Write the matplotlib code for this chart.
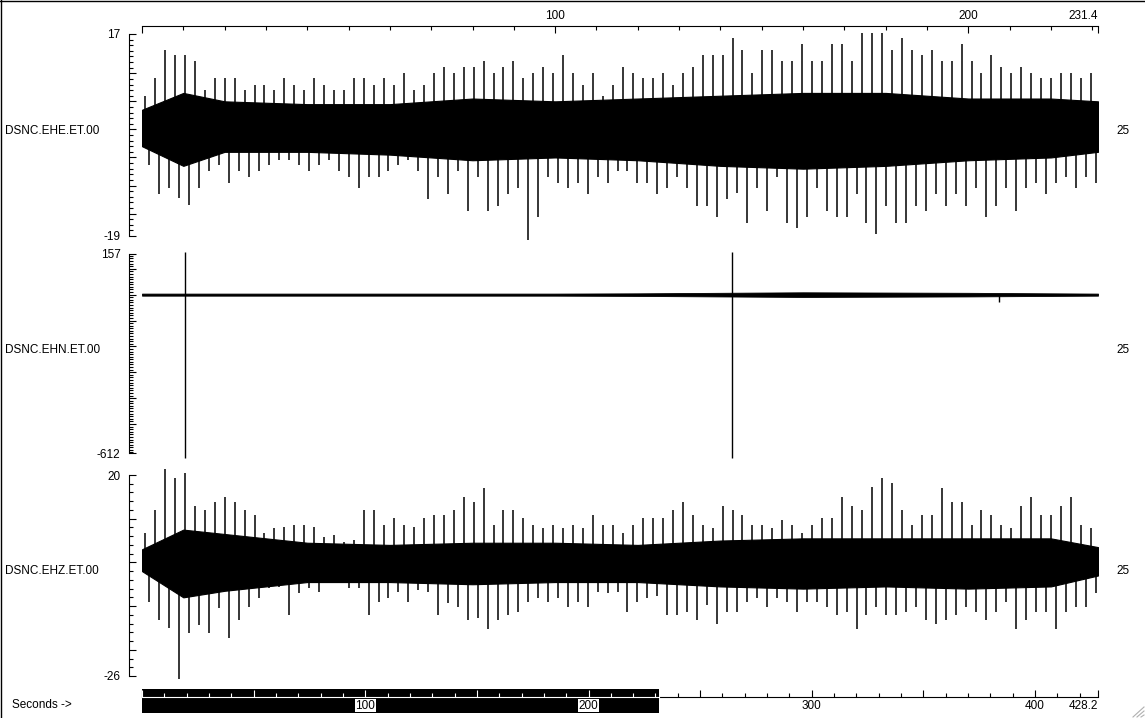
# seismogram view: DSNC station, three channels (EHE / EHN / EHZ)

import numpy as np
import matplotlib.pyplot as plt
from matplotlib.ticker import FixedLocator, FixedFormatter, MultipleLocator
from matplotlib.lines import Line2D

plt.rcParams['font.family'] = ['Liberation Sans', 'DejaVu Sans']

W, H = 1145, 718
t_view = 231.4      # seconds shown in the trace window
t_total = 428.2     # whole record length

# per-bin peaks (96 bins across the shown window), upper / lower
ehe_hi = [6.0, 9.1, 14.2, 13.3, 13.3, 12.1, 7.0, 9.1, 9.1, 9.1, 7.0, 8.0, 8.0, 7.0, 9.1, 8.0,
          7.0, 9.1, 8.0, 7.0, 7.0, 9.1, 9.1, 8.0, 9.1, 8.0, 10.0, 7.0, 8.0, 10.0, 11.2, 10.0,
          11.2, 11.2, 12.1, 10.0, 11.2, 12.1, 9.1, 10.0, 11.2, 10.0, 13.3, 10.0, 8.0, 10.0, 6.0, 8.0,
          11.2, 10.0, 9.1, 9.1, 10.0, 8.0, 10.0, 11.2, 13.3, 13.3, 13.3, 16.2, 14.2, 10.0, 14.2, 14.2,
          12.1, 12.1, 15.2, 12.1, 12.1, 15.2, 15.2, 12.1, 17.3, 17.3, 17.3, 14.2, 16.2, 14.2, 13.3, 14.2,
          12.1, 12.1, 15.2, 12.1, 10.0, 13.3, 11.2, 10.0, 11.2, 10.0, 9.1, 9.1, 10.0, 10.0, 9.1, 10.0]
ehe_lo = [-6.3, -11.5, -10.5, -12.3, -13.4, -10.5, -7.5, -6.3, -9.5, -7.5, -8.4, -7.5, -6.3, -5.4, -5.4, -6.3,
          -7.5, -6.3, -5.4, -7.5, -8.4, -10.5, -8.4, -8.4, -7.5, -6.3, -5.4, -7.5, -12.4, -8.4, -11.5, -7.5,
          -14.6, -8.4, -14.6, -13.6, -11.5, -10.5, -19.8, -15.7, -8.4, -9.6, -10.5, -9.5, -11.5, -8.4, -9.5, -7.5,
          -7.5, -9.5, -9.5, -11.5, -10.5, -8.4, -10.5, -13.6, -13.6, -15.7, -12.4, -11.4, -16.6, -10.5, -14.6, -8.4,
          -16.6, -17.6, -15.7, -10.5, -14.6, -15.7, -15.7, -11.5, -16.6, -18.6, -13.6, -16.6, -16.6, -13.6, -14.6, -11.5,
          -13.6, -11.5, -13.6, -10.5, -15.7, -13.6, -10.5, -14.6, -10.5, -9.5, -11.5, -9.5, -8.4, -10.5, -8.4, -9.5]

ehz_hi = [6.7, 12.0, 21.3, 19.2, 20.4, 12.8, 12.0, 13.9, 15.0, 13.9, 12.0, 10.8, 6.7, 7.8, 8.2, 8.6,
          8.6, 8.2, 5.9, 6.3, 4.7, 5.1, 12.0, 12.0, 8.6, 10.1, 8.6, 8.2, 10.1, 10.8, 10.8, 12.0,
          15.0, 13.9, 17.1, 8.6, 12.0, 12.0, 10.1, 8.6, 7.8, 8.6, 7.8, 8.6, 7.8, 10.8, 8.6, 8.6,
          6.7, 8.6, 10.1, 10.1, 10.1, 12.0, 13.9, 10.8, 8.6, 7.8, 12.8, 12.0, 10.8, 8.6, 8.6, 7.8,
          9.7, 8.6, 6.7, 8.6, 10.1, 10.1, 15.0, 12.8, 12.0, 17.3, 19.2, 18.1, 12.0, 8.6, 10.8, 10.8,
          17.1, 13.9, 13.9, 8.6, 12.0, 10.8, 8.6, 7.8, 12.8, 15.0, 10.8, 10.8, 12.8, 15.0, 8.6, 7.8]
ehz_lo = [-9.0, -13.2, -15.1, -26.8, -16.2, -14.3, -16.2, -10.5, -17.4, -13.2, -10.1, -8.2, -5.9, -5.6, -12.0, -6.9,
          -5.9, -6.7, -4.8, -4.8, -5.9, -5.9, -12.0, -9.0, -8.2, -6.7, -9.0, -6.3, -6.7, -12.0, -9.4, -10.1,
          -13.2, -12.8, -15.3, -13.2, -12.0, -11.3, -9.0, -8.2, -9.0, -8.2, -10.1, -9.0, -10.1, -6.7, -7.1, -6.7,
          -11.3, -9.0, -8.2, -7.8, -12.0, -12.0, -11.3, -13.2, -9.7, -14.2, -11.3, -11.3, -9.0, -8.2, -10.1, -8.2,
          -9.0, -11.3, -9.0, -9.0, -10.1, -12.0, -11.3, -15.3, -12.0, -10.1, -12.0, -12.0, -11.3, -10.1, -13.2, -14.2,
          -13.2, -12.0, -10.1, -11.3, -13.2, -11.3, -9.0, -15.3, -13.2, -11.3, -11.3, -15.3, -11.3, -10.1, -10.1, -7.1]

# solid core of the noise band
core_t = [0, 10, 20, 40, 60, 80, 100, 120, 140, 160, 180, 200, 220, 231.4]
ehe_core_hi = [3.5, 6.5, 5.0, 4.5, 4.5, 5.5, 5.0, 5.5, 6.0, 6.5, 6.5, 5.5, 5.5, 5.0]
ehe_core_lo = [-3.0, -6.5, -4.0, -4.0, -4.5, -5.5, -5.0, -5.5, -6.5, -7.0, -6.5, -5.5, -5.0, -4.0]
ehz_core_hi = [3.0, 7.5, 6.5, 4.5, 4.0, 4.5, 4.5, 4.0, 5.0, 5.5, 5.5, 5.5, 5.5, 3.5]
ehz_core_lo = [-2.0, -8.0, -6.5, -4.5, -4.5, -5.0, -4.5, -4.5, -5.5, -6.0, -5.5, -6.0, -5.5, -3.0]

# EHN: flat trace with two glitches
ehn_t = [0, 20, 40, 60, 80, 100, 120, 140, 160, 180, 200, 220, 231.4]
ehn_amp = [4, 4, 4, 4, 4, 4, 5, 7, 9, 8, 7, 5, 4]
ehn_spike_t = [10.4, 142.9, 207.5]
ehn_spike_top = [165, 165, 0]
ehn_spike_bot = [-630, -630, -30]

channels = ["DSNC.EHE.ET.00", "DSNC.EHN.ET.00", "DSNC.EHZ.ET.00"]
gains = ["25", "25", "25"]
y_limits = [(-19, 17), (-612, 157), (-26, 20)]
y_major = [[17, 10, 5, 0, -5, -10, -15, -19],
           [157, 100, 0, -100, -200, -300, -400, -500, -612],
           [20, 10, 0, -10, -20, -26]]
y_minor = [1, 10, 2]

top_ticks = [0, 100, 200, 231.4]
top_labels = ["", "100", "200", "231.4"]
bot_ticks = [0, 50, 100, 150, 200, 250, 300, 350, 400, 428.2]
bot_labels = ["", "", "100", "", "200", "", "300", "", "400", "428.2"]


def box(x0, y0, x1, y1):
    return [x0 / W, 1 - y1 / H, (x1 - x0) / W, (y1 - y0) / H]


fig = plt.figure(figsize=(W / 100, H / 100), dpi=100)

panel_px = [(34, 236), (254, 453), (475, 676)]
axes = []
for i, (y0, y1) in enumerate(panel_px):
    ax = fig.add_axes(box(142, y0, 1098, y1))
    ax.set_xlim(0, t_view)
    ax.set_ylim(*y_limits[i])
    for s in ["top", "right", "bottom"]:
        ax.spines[s].set_visible(False)
    ax.spines["left"].set_position(("outward", 9.4))
    ax.spines["left"].set_linewidth(0.8)
    ax.set_xticks([])
    ax.yaxis.set_major_locator(FixedLocator(y_major[i]))
    labs = [""] * len(y_major[i])
    labs[0] = str(y_major[i][0])
    labs[-1] = str(y_major[i][-1])
    ax.yaxis.set_major_formatter(FixedFormatter(labs))
    ax.yaxis.set_minor_locator(MultipleLocator(y_minor[i]))
    ax.tick_params(axis="y", which="major", direction="in", length=5, width=0.8,
                   labelsize=8.5, pad=6)
    ax.tick_params(axis="y", which="minor", direction="in", length=2.8, width=0.8)
    ax.text(-0.143, 0.52, channels[i], transform=ax.transAxes, ha="left", va="center",
            fontsize=8.5)
    ax.text(1.019, 0.52, gains[i], transform=ax.transAxes, ha="left", va="center",
            fontsize=8.5)
    axes.append(ax)

# noisy channels: core band plus up and down peaks for every bin
for ax, hi, lo, chi, clo in [(axes[0], ehe_hi, ehe_lo, ehe_core_hi, ehe_core_lo),
                             (axes[2], ehz_hi, ehz_lo, ehz_core_hi, ehz_core_lo)]:
    edges = np.linspace(0, t_view, len(hi) + 1)
    dt = edges[1] - edges[0]
    ax.fill_between(core_t, clo, chi, color="black", lw=0.8)
    ax.vlines(edges[:-1] + 0.3 * dt, 0, hi, color="black", lw=1.1, clip_on=False)
    ax.vlines(edges[:-1] + 0.75 * dt, lo, 0, color="black", lw=1.1, clip_on=False)

# flat channel
ax = axes[1]
ax.fill_between(ehn_t, [-a for a in ehn_amp], ehn_amp, color="black", lw=0.6)
ax.vlines(ehn_spike_t, ehn_spike_bot, ehn_spike_top, color="black", lw=1.0, clip_on=False)

# time axis above the traces
axt = fig.add_axes(box(142, 26, 1098, 33))
axt.set_xlim(0, t_view)
axt.set_ylim(0, 1)
for s in ["left", "right", "bottom"]:
    axt.spines[s].set_visible(False)
axt.spines["top"].set_linewidth(0.8)
axt.set_yticks([])
axt.xaxis.set_major_locator(FixedLocator(top_ticks))
axt.xaxis.set_major_formatter(FixedFormatter(top_labels))
axt.xaxis.set_minor_locator(MultipleLocator(10))
axt.tick_params(axis="x", which="both", top=True, bottom=False, labeltop=True,
                labelbottom=False, direction="in", width=0.8, labelsize=8.5, pad=3)
axt.tick_params(axis="x", which="major", length=5)
axt.tick_params(axis="x", which="minor", length=3)
axt.get_xticklabels()[-1].set_ha("right")

# whole-record axis at the bottom, with the shown window as a black bar
axb = fig.add_axes(box(142, 690, 1098, 697))
axb.set_xlim(0, t_total)
axb.set_ylim(0, 1)
for s in ["left", "right", "top"]:
    axb.spines[s].set_visible(False)
axb.spines["bottom"].set_linewidth(0.8)
axb.set_yticks([])
axb.axvspan(0, t_view, ymin=-2.3, ymax=1.15, color="black", lw=0, clip_on=False, zorder=0.5)
axb.xaxis.set_major_locator(FixedLocator(bot_ticks))
axb.xaxis.set_major_formatter(FixedFormatter(bot_labels))
axb.xaxis.set_minor_locator(MultipleLocator(10))
axb.tick_params(axis="x", which="both", direction="in", width=0.8, labelsize=8.5, pad=2)
axb.tick_params(axis="x", which="major", length=5)
axb.tick_params(axis="x", which="minor", length=3)
for lbl in axb.get_xticklabels():
    lbl.set_bbox(dict(facecolor="white", edgecolor="none", pad=0.5))
axb.get_xticklabels()[-1].set_ha("right")

# white axis line and ticks over the bar
axw = fig.add_axes(box(142, 690, 142 + (1098 - 142) * t_view / t_total, 697))
axw.set_xlim(0, t_view)
axw.set_ylim(0, 1)
axw.patch.set_visible(False)
for s in ["left", "right", "top"]:
    axw.spines[s].set_visible(False)
axw.spines["bottom"].set_color("white")
axw.spines["bottom"].set_linewidth(0.8)
axw.set_yticks([])
axw.xaxis.set_major_locator(FixedLocator([t for t in bot_ticks if t < t_view]))
axw.xaxis.set_minor_locator(MultipleLocator(10))
axw.tick_params(axis="x", which="both", direction="in", width=0.8, color="white",
                labelbottom=False)
axw.tick_params(axis="x", which="major", length=5)
axw.tick_params(axis="x", which="minor", length=3)

fig.text(12 / W, 1 - 705 / H, "Seconds ->", ha="left", va="center", fontsize=8.5)

# window frame and resize grip
fig.add_artist(Line2D([0, 1], [1 - 0.5 / H, 1 - 0.5 / H], color="black", lw=1))
fig.add_artist(Line2D([0.5 / W, 0.5 / W], [0, 1], color="black", lw=1))
for d in [4, 8, 12]:
    fig.add_artist(Line2D([(W - d) / W, (W - 1) / W], [1 / H, (d - 1) / H],
                          color="#b0b0b0", lw=0.8))

fig.savefig("out.png", dpi=100)
